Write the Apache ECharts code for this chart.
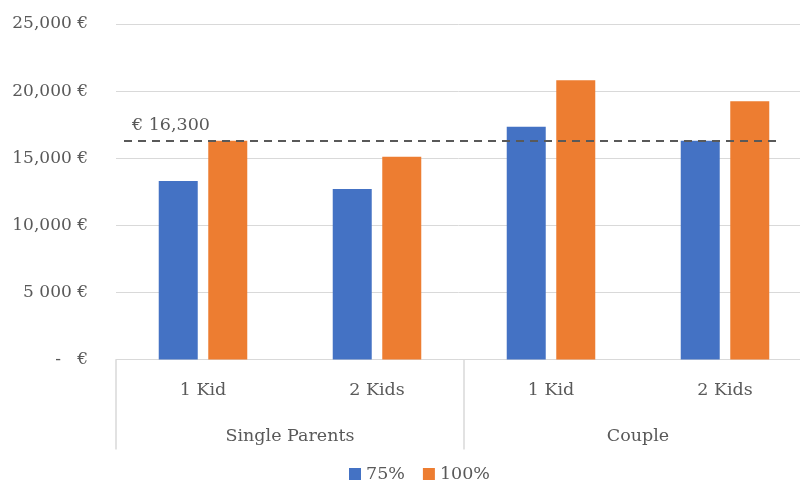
<!DOCTYPE html>
<html>
<head>
<meta charset="utf-8">
<script src="https://cdn.jsdelivr.net/npm/echarts@6/dist/echarts.min.js"></script>
<style>html,body{margin:0;padding:0;background:#fff}#c{width:800px;height:482px}</style>
</head>
<body>
<div id="c"></div>
<script>
const kidLabels = ["1 Kid", "2 Kids", "1 Kid", "2 Kids"];
const groupLabels = ["Single Parents", "Couple"];
const seriesNames = ["75%", "100%"];
const values75 = [13300, 12700, 17350, 16300];
const values100 = [16300, 15100, 20800, 19250];
const thresholdValue = 16300;
const thresholdLabel = "€ 16,300";
const yTickLabels = { 0: "-   €", 5000: "5 000 €", 10000: "10,000 €", 15000: "15,000 €", 20000: "20,000 €", 25000: "25,000 €" };

const FONT = "DejaVu Serif";
const TXT = "#595959";
const chart = echarts.init(document.getElementById('c'));
chart.setOption({
  animation: false,
  textStyle: { fontFamily: FONT, color: TXT },
  legend: {
    top: 460, left: 344,
    icon: 'rect', itemWidth: 12, itemHeight: 12, itemGap: 18,
    textStyle: { fontFamily: FONT, fontSize: 17.5, color: TXT },
    data: seriesNames
  },
  grid: { left: 116, top: 24, width: 696, height: 335.5, outerBoundsMode: 'none', containLabel: false },
  xAxis: [
    {
      type: 'category', data: kidLabels, gridIndex: 0, position: 'bottom',
      axisLine: { show: true, lineStyle: { color: '#d9d9d9', width: 1 } },
      axisTick: { show: false },
      axisLabel: { fontFamily: FONT, fontSize: 17.5, color: TXT, margin: 22, interval: 0 }
    },
    {
      type: 'category', data: groupLabels, gridIndex: 0, position: 'bottom',
      axisLine: { show: false },
      axisTick: { show: true, length: 90, interval: 0, lineStyle: { color: '#d9d9d9', width: 1.5 } },
      axisLabel: { fontFamily: FONT, fontSize: 17.5, color: TXT, margin: 68, interval: 0 }
    }
  ],
  yAxis: {
    type: 'value', min: 0, max: 25000, interval: 5000,
    axisLine: { show: false }, axisTick: { show: false },
    splitLine: { lineStyle: { color: '#d9d9d9', width: 1 } },
    axisLabel: {
      fontFamily: FONT, fontSize: 17, color: TXT, margin: 28,
      formatter: v => yTickLabels[v] !== undefined ? yTickLabels[v] : ''
    }
  },
  series: [
    {
      name: seriesNames[0], type: 'bar', xAxisIndex: 0, data: values75,
      barWidth: 39, barGap: '27%',
      itemStyle: { color: '#4472C4' },
      markLine: {
        silent: true, symbol: ['none', 'none'],
        lineStyle: { color: '#595959', type: [8, 6], width: 2 },
        label: {
          show: true, position: 'insideStartTop', formatter: thresholdLabel,
          fontFamily: FONT, fontSize: 17.5, color: TXT, distance: [8, 6]
        },
        data: [[{ yAxis: thresholdValue, x: 124 }, { yAxis: thresholdValue, x: 782 }]]
      }
    },
    {
      name: seriesNames[1], type: 'bar', xAxisIndex: 0, data: values100,
      barWidth: 39, barGap: '27%',
      itemStyle: { color: '#ED7D31' }
    }
  ]
});
</script>
</body>
</html>
